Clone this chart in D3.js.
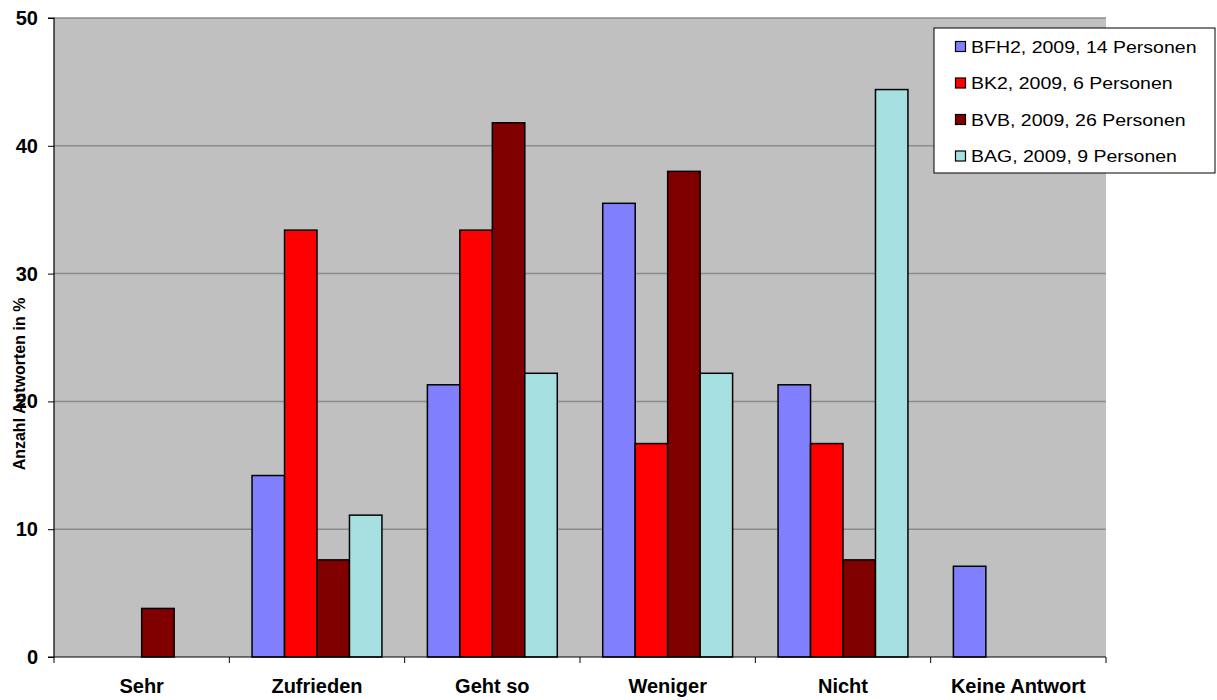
<!DOCTYPE html>
<html><head><meta charset="utf-8">
<script src="https://cdn.jsdelivr.net/npm/d3@7"></script>
<style>
html,body{margin:0;padding:0;background:#fff;}
svg{display:block;font-family:"Liberation Sans",Arial,sans-serif;}
</style></head>
<body>
<svg id="chart" width="1217" height="700"></svg>
<script>
const categories = ["Sehr","Zufrieden","Geht so","Weniger","Nicht","Keine Antwort"];
const seriesNames = ["BFH2, 2009, 14 Personen","BK2, 2009, 6 Personen","BVB, 2009, 26 Personen","BAG, 2009, 9 Personen"];
const bfh2 = [0,14.2,21.3,35.5,21.3,7.1];
const bk2  = [0,33.4,33.4,16.7,16.7,0];
const bvb  = [3.8,7.6,41.8,38.0,7.6,0];
const bag  = [0,11.1,22.2,22.2,44.4,0];
const seriesValues = [bfh2,bk2,bvb,bag];
const colors = ["#8080ff","#ff0000","#800000","#a6e0e0"];
const yTicks = [0,10,20,30,40,50];
const yLabel = "Anzahl Antworten in %";

const svg = d3.select("#chart");
const L=54, T=18, R=1106, B=657;
const x0 = d3.scaleBand().domain(categories).range([L,R]).paddingInner(0).paddingOuter(0);
const x1 = d3.scaleBand().domain(d3.range(seriesNames.length)).range([0,x0.bandwidth()]).paddingInner(0).paddingOuter(0.7);
const y = d3.scaleLinear().domain([0,50]).range([B,T]);

svg.append("rect").attr("x",L).attr("y",T).attr("width",R-L).attr("height",B-T).attr("fill","#c0c0c0");

// gridlines
svg.append("g").selectAll("line").data(yTicks.filter(d=>d>0)).join("line")
  .attr("x1",L).attr("x2",R).attr("y1",d=>y(d)).attr("y2",d=>y(d))
  .attr("stroke","#8c8c8c").attr("stroke-width",1.5);

// bars
const g = svg.append("g");
categories.forEach((c,ci)=>{
  seriesValues.forEach((vals,si)=>{
    const v = vals[ci];
    if(v<=0) return;
    g.append("rect").attr("x",x0(c)+x1(si)).attr("y",y(v))
      .attr("width",x1.bandwidth()).attr("height",y(0)-y(v))
      .attr("fill",colors[si]).attr("stroke","#000").attr("stroke-width",1.5);
  });
});

// y axis
const yAxis = d3.axisLeft(y).tickValues(yTicks).tickSize(6).tickPadding(10).tickFormat(d3.format("d"));
const ya = svg.append("g").attr("transform",`translate(${L},0)`).call(yAxis);
ya.attr("font-size",null).attr("font-family",null);
ya.select(".domain").attr("stroke","#000").attr("stroke-width",1.2).attr("d",`M-6,${T}H0V${B}`);
ya.selectAll(".tick line").attr("stroke","#000");
ya.selectAll("text").style("font-size","20px").style("font-weight","bold").attr("fill","#000")
  .style("font-family","'Liberation Sans',Arial,sans-serif");

// x axis
const xa = svg.append("g").attr("transform",`translate(0,${B})`);
xa.append("line").attr("x1",L-6).attr("x2",R).attr("y1",0).attr("y2",0).attr("stroke","#000").attr("stroke-width",1.2);
const bounds = categories.map(c=>x0(c)).concat([R]);
xa.selectAll("line.tk").data(bounds).join("line").attr("class","tk")
  .attr("x1",d=>d).attr("x2",d=>d).attr("y1",0).attr("y2",6).attr("stroke","#000");
xa.selectAll("text").data(categories).join("text")
  .attr("x",d=>x0(d)+x0.bandwidth()/2).attr("y",36)
  .attr("text-anchor","middle").style("font-size","20px").style("font-weight","bold").text(d=>d);

// y label
svg.append("text").attr("transform","translate(25,384) rotate(-90)")
  .attr("text-anchor","middle").style("font-size","16px").style("font-weight","bold").text(yLabel);

// legend
const lg = svg.append("g");
const lx=934, ly=28, lw=281, lh=145;
lg.append("rect").attr("x",lx).attr("y",ly).attr("width",lw).attr("height",lh).attr("fill","#fff").attr("stroke","#000").attr("stroke-width",1);
seriesNames.forEach((s,i)=>{
  const cy = 46.5 + i*36.5;
  lg.append("rect").attr("x",955.5).attr("y",cy-5).attr("width",10).attr("height",10)
    .attr("fill",colors[i]).attr("stroke","#000").attr("stroke-width",1.2);
  lg.append("text").attr("transform",`translate(971,${cy+6}) scale(1.22,1)`)
    .style("font-size","16px").text(s);
});
</script>
</body></html>
